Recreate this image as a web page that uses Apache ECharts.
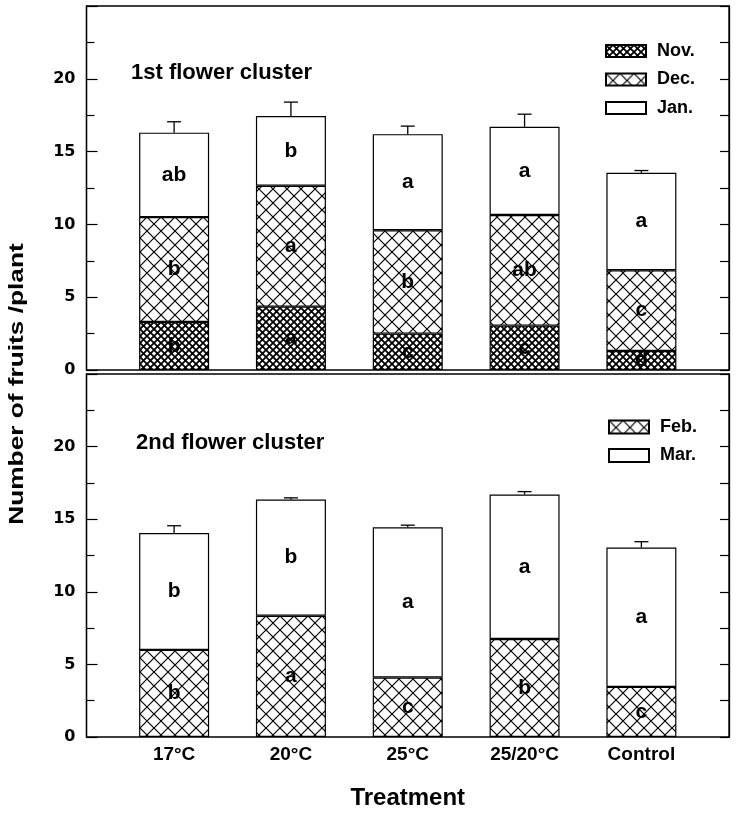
<!DOCTYPE html>
<html>
<head>
<meta charset="utf-8">
<script src="https://cdn.jsdelivr.net/npm/echarts@6/dist/echarts.min.js"></script>
<style>
html,body{margin:0;padding:0;background:#fff;}
#chart{width:736px;height:814px;}
</style>
</head>
<body>
<div id="chart"></div>
<script>
// ---- data ----
var categories = ['17°C', '20°C', '25°C', '25/20°C', 'Control'];
var yTicks = [0, 5, 10, 15, 20];
// 1st flower cluster
var nov = [3.3, 4.35, 2.5, 3.05, 1.3];
var dec = [7.2, 8.3, 7.1, 7.6, 5.55];
var jan = [5.8, 4.8, 6.6, 6.05, 6.7];
var err1 = [0.75, 0.95, 0.55, 0.87, 0.15];
var novLetters = ['b', 'a', 'c', 'c', 'd'];
var decLetters = ['b', 'a', 'b', 'ab', 'c'];
var janLetters = ['ab', 'b', 'a', 'a', 'a'];
// 2nd flower cluster
var feb = [6.0, 8.35, 4.1, 6.75, 3.45];
var mar = [8.05, 8.0, 10.35, 9.95, 9.6];
var err2 = [0.5, 0.12, 0.14, 0.2, 0.4];
var febLetters = ['b', 'a', 'c', 'b', 'c'];
var marLetters = ['b', 'b', 'a', 'a', 'a'];

// ---- patterns ----
function hatch(size, lw) {
  var c = document.createElement('canvas');
  c.width = size; c.height = size;
  var g = c.getContext('2d');
  g.fillStyle = '#fff'; g.fillRect(0, 0, size, size);
  g.strokeStyle = '#000'; g.lineWidth = lw;
  g.beginPath();
  g.moveTo(-1, -1); g.lineTo(size + 1, size + 1);
  g.moveTo(size + 1, -1); g.lineTo(-1, size + 1);
  g.stroke();
  return c;
}
var fineHatch = { image: hatch(7, 1.8), repeat: 'repeat' };
var coarseHatch = { image: hatch(14, 1.2), repeat: 'repeat' };

var FONT = "'Liberation Sans', Arial, sans-serif";
var NUMFONT = "'DejaVu Sans', Arial, sans-serif";

function sum(arrs) {
  return arrs[0].map(function (_, i) {
    return arrs.reduce(function (s, a) { return s + a[i]; }, 0);
  });
}
var tot1 = sum([nov, dec, jan]);
var tot2 = sum([feb, mar]);

var plotL = 86.5, plotW = 642.5;
var step = plotW / 5.5;
var dataL = plotL + 0.25 * step, dataW = 5 * step;
var panels = [{ top: 6, height: 364 }, { top: 374, height: 363 }];

var grids = [];
var xAxes = [];
var yAxes = [];
panels.forEach(function (p, k) {
  // frame grid
  grids.push({ left: plotL, width: plotW, top: p.top, height: p.height, show: true, borderColor: '#000', borderWidth: 1.3, backgroundColor: 'transparent' });
  // data grid
  grids.push({ left: dataL, width: dataW, top: p.top, height: p.height });
  xAxes.push({ type: 'value', gridIndex: 2 * k, min: 0, max: 1, show: false });
  xAxes.push({
    type: 'category', gridIndex: 2 * k + 1, data: categories,
    axisLine: { show: false }, axisTick: { show: false },
    axisLabel: {
      show: k === 1, margin: 8, color: '#000', fontFamily: FONT, fontWeight: 'bold', fontSize: 19
    },
    name: k === 1 ? 'Treatment' : '', nameLocation: 'middle', nameGap: 49,
    nameTextStyle: { color: '#000', fontFamily: FONT, fontWeight: 'bold', fontSize: 24 }
  });
  var common = {
    type: 'value', gridIndex: 2 * k, min: 0, max: 25, interval: 5,
    splitLine: { show: false },
    axisLine: { show: true, lineStyle: { color: '#000', width: 1.3 } },
    axisTick: { show: true, inside: true, length: 11, lineStyle: { color: '#000', width: 1.2 } },
    minorTick: { show: true, splitNumber: 2, length: 8, lineStyle: { color: '#000', width: 1.2 } },
    minorSplitLine: { show: false }
  };
  yAxes.push(Object.assign({}, common, {
    position: 'left',
    axisLabel: {
      margin: 11, color: '#000', fontFamily: NUMFONT, fontWeight: 'bold', fontSize: 16,
      formatter: function (v) { return yTicks.indexOf(v) >= 0 ? String(v) : ''; }
    }
  }));
  yAxes.push(Object.assign({}, common, {
    position: 'right',
    axisTick: { show: true, inside: true, length: 9, lineStyle: { color: '#000', width: 1.2 } },
    minorTick: { show: true, splitNumber: 2, length: 9, lineStyle: { color: '#000', width: 1.2 } },
    axisLabel: { show: false }
  }));
  yAxes.push({ type: 'value', gridIndex: 2 * k + 1, min: 0, max: 25, show: false, splitLine: { show: false } });
});

var labelStyle = { show: true, position: 'inside', color: '#000', fontFamily: FONT, fontWeight: 'bold', fontSize: 21 };
function barSeries(name, values, letters, fill, stack, xi, yi) {
  return {
    type: 'bar', name: name, stack: stack, xAxisIndex: xi, yAxisIndex: yi,
    data: values, barWidth: 70,
    itemStyle: { color: fill, borderColor: '#000', borderWidth: 1.2 },
    label: Object.assign({}, labelStyle, { formatter: function (p) { return letters[p.dataIndex]; } }),
    emphasis: { disabled: true }, animation: false
  };
}
function errSeries(totals, errs, xi, yi) {
  return {
    type: 'custom', xAxisIndex: xi, yAxisIndex: yi, z: 10, animation: false,
    data: totals.map(function (t, i) { return [i, t, errs[i]]; }),
    renderItem: function (params, api) {
      var x = api.value(0), t = api.value(1), e = api.value(2);
      var p0 = api.coord([x, t]), p1 = api.coord([x, t + e]);
      var st = { stroke: '#000', lineWidth: 1.3 };
      return {
        type: 'group', children: [
          { type: 'line', shape: { x1: p0[0], y1: p0[1], x2: p1[0], y2: p1[1] }, style: st },
          { type: 'line', shape: { x1: p1[0] - 7, y1: p1[1], x2: p1[0] + 7, y2: p1[1] }, style: st }
        ]
      };
    }
  };
}

var legendText = { color: '#000', fontFamily: FONT, fontWeight: 'bold', fontSize: 18, padding: [0, 0, 0, 6], lineHeight: 15 };
var titleText = { color: '#000', fontFamily: FONT, fontWeight: 'bold', fontSize: 22 };

var option = {
  backgroundColor: '#fff',
  animation: false,
  grid: grids,
  xAxis: xAxes,
  yAxis: yAxes,
  title: [
    { text: '1st flower cluster', left: 131, top: 62, padding: 0, textStyle: titleText },
    { text: '2nd flower cluster', left: 136, top: 432, padding: 0, textStyle: titleText }
  ],
  legend: [
    { data: ['Nov.', 'Dec.', 'Jan.'], orient: 'vertical', left: 605, top: 42, padding: 0, itemWidth: 40, itemHeight: 12, itemGap: 10.5, icon: 'rect', textStyle: legendText, selectedMode: false },
    { data: ['Feb.', 'Mar.'], orient: 'vertical', left: 608, top: 418, padding: 0, itemWidth: 40, itemHeight: 13, itemGap: 10.5, icon: 'rect', textStyle: legendText, selectedMode: false }
  ],
  graphic: [
    { type: 'text', x: 17, y: 384, rotation: Math.PI / 2, scaleX: 1.25, style: { text: 'Number of fruits /plant', fill: '#000', textAlign: 'center', textVerticalAlign: 'middle', font: "bold 21px 'Liberation Sans', Arial, sans-serif" } }
  ],
  series: [
    barSeries('Nov.', nov, novLetters, fineHatch, 'c1', 1, 2),
    barSeries('Dec.', dec, decLetters, coarseHatch, 'c1', 1, 2),
    barSeries('Jan.', jan, janLetters, '#fff', 'c1', 1, 2),
    errSeries(tot1, err1, 1, 2),
    barSeries('Feb.', feb, febLetters, coarseHatch, 'c2', 3, 5),
    barSeries('Mar.', mar, marLetters, '#fff', 'c2', 3, 5),
    errSeries(tot2, err2, 3, 5)
  ]
};
var chart = echarts.init(document.getElementById('chart'), null, { renderer: 'canvas' });
chart.setOption(option);
</script>
</body>
</html>
